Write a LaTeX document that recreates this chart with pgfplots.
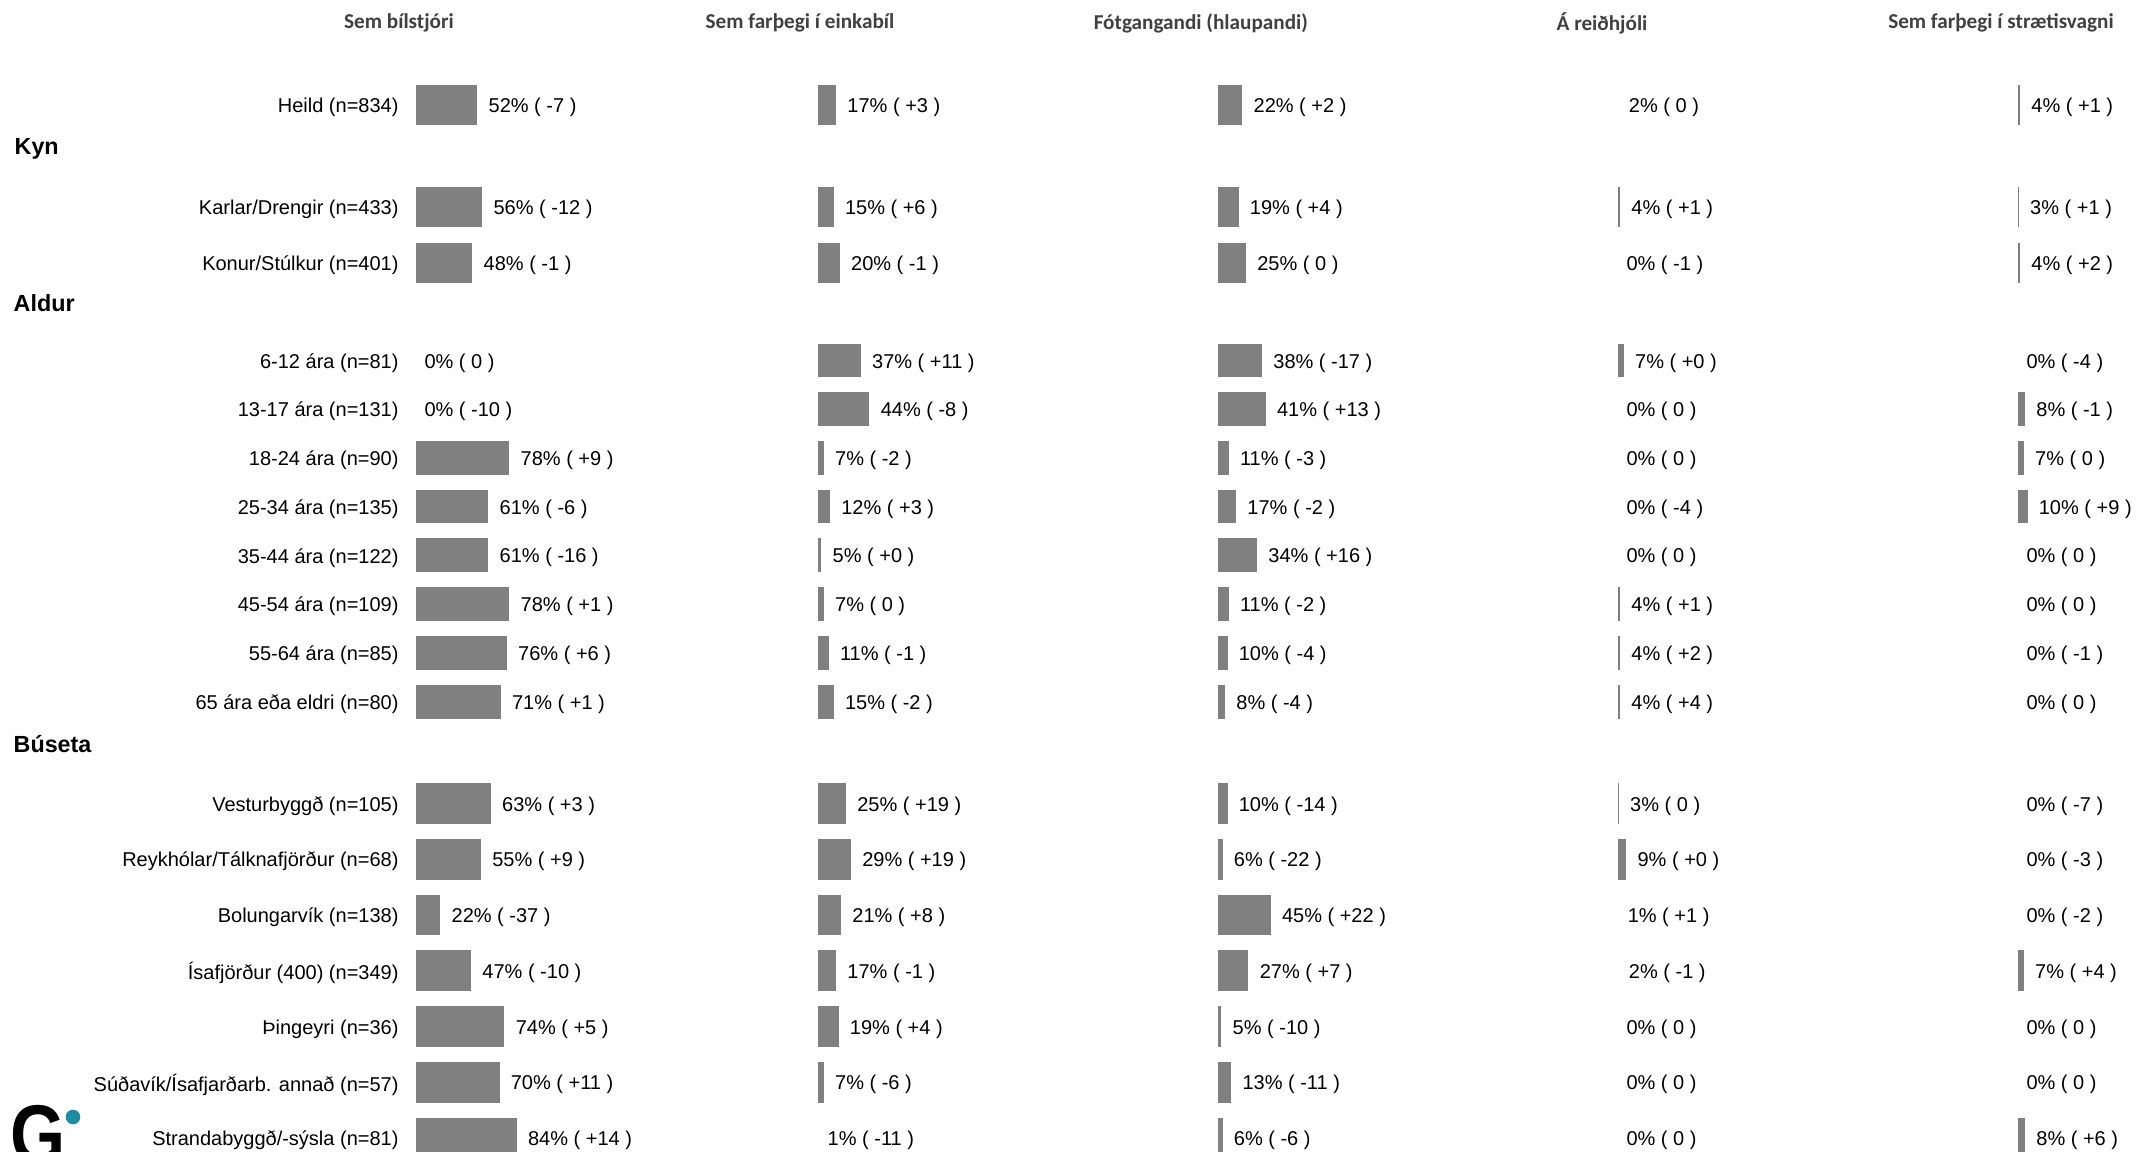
\documentclass[border=0pt]{standalone}
\usepackage{fontspec}
\setmainfont{Liberation Sans}
\newfontfamily\hdrfont{Carlito}
\usepackage{pgfplots}
\pgfplotsset{compat=1.18}
\usepackage{pgfplotstable}

\definecolor{barc}{RGB}{128,128,128}
\definecolor{hdrc}{RGB}{64,64,64}
\definecolor{gteal}{RGB}{30,140,165}
\newcommand{\px}{0.3pt}
\newcommand{\rowfont}{\fontsize{6.0}{7}\selectfont}
\newcommand{\grpfont}{\fontsize{7}{8}\selectfont\bfseries}
\newcommand{\colfont}{\hdrfont\fontsize{6.36}{7.5}\selectfont\bfseries\color{hdrc}}

% rows of Heild, Kyn and Buseta
\pgfplotstableread[col sep=comma]{
y,v1,l1,v2,l2,v3,l3,v4,l4,v5,l5
105,52,52\% ( -7 ),17,17\% ( +3 ),22,22\% ( +2 ),2,2\% ( 0 ),4,4\% ( +1 )
207,56,56\% ( -12 ),15,15\% ( +6 ),19,19\% ( +4 ),4,4\% ( +1 ),3,3\% ( +1 )
263,48,48\% ( -1 ),20,20\% ( -1 ),25,25\% ( 0 ),0,0\% ( -1 ),4,4\% ( +2 )
803.5,63,63\% ( +3 ),25,25\% ( +19 ),10,10\% ( -14 ),3,3\% ( 0 ),0,0\% ( -7 )
859.3,55,55\% ( +9 ),29,29\% ( +19 ),6,6\% ( -22 ),9,9\% ( +0 ),0,0\% ( -3 )
915,22,22\% ( -37 ),21,21\% ( +8 ),45,45\% ( +22 ),1,1\% ( +1 ),0,0\% ( -2 )
970.8,47,47\% ( -10 ),17,17\% ( -1 ),27,27\% ( +7 ),2,2\% ( -1 ),7,7\% ( +4 )
1026.6,74,74\% ( +5 ),19,19\% ( +4 ),5,5\% ( -10 ),0,0\% ( 0 ),0,0\% ( 0 )
1082.4,70,70\% ( +11 ),7,7\% ( -6 ),13,13\% ( -11 ),0,0\% ( 0 ),0,0\% ( 0 )
1138.2,84,84\% ( +14 ),1,1\% ( -11 ),6,6\% ( -6 ),0,0\% ( 0 ),8,8\% ( +6 )
}\tabA

% rows of Aldur
\pgfplotstableread[col sep=comma]{
y,v1,l1,v2,l2,v3,l3,v4,l4,v5,l5
360.5,0,0\% ( 0 ),37,37\% ( +11 ),38,38\% ( -17 ),7,7\% ( +0 ),0,0\% ( -4 )
408.8,0,0\% ( -10 ),44,44\% ( -8 ),41,41\% ( +13 ),0,0\% ( 0 ),8,8\% ( -1 )
457.6,78,78\% ( +9 ),7,7\% ( -2 ),11,11\% ( -3 ),0,0\% ( 0 ),7,7\% ( 0 )
506.5,61,61\% ( -6 ),12,12\% ( +3 ),17,17\% ( -2 ),0,0\% ( -4 ),10,10\% ( +9 )
555.4,61,61\% ( -16 ),5,5\% ( +0 ),34,34\% ( +16 ),0,0\% ( 0 ),0,0\% ( 0 )
604.3,78,78\% ( +1 ),7,7\% ( 0 ),11,11\% ( -2 ),4,4\% ( +1 ),0,0\% ( 0 )
653.2,76,76\% ( +6 ),11,11\% ( -1 ),10,10\% ( -4 ),4,4\% ( +2 ),0,0\% ( -1 )
702.1,71,71\% ( +1 ),15,15\% ( -2 ),8,8\% ( -4 ),4,4\% ( +4 ),0,0\% ( 0 )
}\tabB

\pgfplotsset{
  panel/.style={
    scale only axis, x=0.37pt, y=0.3pt, y dir=reverse,
    xmin=0, xmax=100, ymin=0, ymax=1152, enlargelimits=false,
    anchor=north west, clip=false,
    xbar, bar shift=0pt,
    axis line style={draw=none}, major tick style={draw=none}, major tick length=0pt,
    xtick=\empty, ytick=\empty,
    nodes near coords, point meta=explicit symbolic,
    nodes near coords style={anchor=west, inner sep=0pt, xshift=2.6pt, yshift=-0.7pt, font=\rowfont, text=black, draw=none, fill=none},
  },
  barA/.style={fill=barc, draw=white, line width=0.8pt, bar width=43.5},
  barB/.style={fill=barc, draw=white, line width=0.8pt, bar width=36.5},
}

\begin{document}
\begin{tikzpicture}
% panel 1
\begin{axis}[panel, at={(414.5*\px,0)},
  ytick={105,207,263,360.5,408.8,457.6,506.5,555.4,604.3,653.2,702.1,803.5,859.3,915,970.8,1026.6,1082.4,1138.2},
  yticklabels={Heild (n=834),Karlar/Drengir (n=433),Konur/Stúlkur (n=401),6-12 ára (n=81),13-17 ára (n=131),18-24 ára (n=90),25-34 ára (n=135),35-44 ára (n=122),45-54 ára (n=109),55-64 ára (n=85),65 ára eða eldri (n=80),Vesturbyggð (n=105),Reykhólar/Tálknafjörður (n=68),Bolungarvík (n=138),Ísafjörður (400) (n=349),Þingeyri (n=36),Súðavík/Ísafjarðarb. annað (n=57),Strandabyggð/-sýsla (n=81)},
  yticklabel style={font=\rowfont, text=black, inner sep=0pt, anchor=east, xshift=-4.6pt, yshift=-0.7pt},
]
\addplot[barA] table[x=v1, y=y, meta=l1] {\tabA};
\addplot[barB] table[x=v1, y=y, meta=l1] {\tabB};
\end{axis}
% panel 2
\begin{axis}[panel, at={(816.5*\px,0)}]
\addplot[barA] table[x=v2, y=y, meta=l2] {\tabA};
\addplot[barB] table[x=v2, y=y, meta=l2] {\tabB};
\end{axis}
% panel 3
\begin{axis}[panel, at={(1216.5*\px,0)}]
\addplot[barA] table[x=v3, y=y, meta=l3] {\tabA};
\addplot[barB] table[x=v3, y=y, meta=l3] {\tabB};
\end{axis}
% panel 4
\begin{axis}[panel, at={(1616.5*\px,0)}]
\addplot[barA] table[x=v4, y=y, meta=l4] {\tabA};
\addplot[barB] table[x=v4, y=y, meta=l4] {\tabB};
\end{axis}
% panel 5
\begin{axis}[panel, at={(2016.5*\px,0)}]
\addplot[barA] table[x=v5, y=y, meta=l5] {\tabA};
\addplot[barB] table[x=v5, y=y, meta=l5] {\tabB};
\end{axis}

% column headers
\node[font=\colfont, inner sep=0pt] at (399*\px,-23*\px) {Sem bílstjóri};
\node[font=\colfont, inner sep=0pt] at (800*\px,-23*\px) {Sem farþegi í einkabíl};
\node[font=\colfont, inner sep=0pt] at (1200.8*\px,-23*\px) {Fótgangandi (hlaupandi)};
\node[font=\colfont, inner sep=0pt] at (1602*\px,-23*\px) {Á reiðhjóli};
\node[font=\colfont, inner sep=0pt] at (2001*\px,-23*\px) {Sem farþegi í strætisvagni};

% group headers
\node[font=\grpfont, anchor=west, inner sep=0pt] at (14*\px,-148.5*\px) {Kyn};
\node[font=\grpfont, anchor=west, inner sep=0pt] at (13*\px,-303.5*\px) {Aldur};
\node[font=\grpfont, anchor=west, inner sep=0pt] at (13*\px,-744.5*\px) {Búseta};

% logo
\begin{scope}
\clip (0,0) rectangle (2136*\px,-1152*\px);
\node[anchor=base west, inner sep=0pt, xscale=0.85, font=\fontsize{25}{25}\selectfont\bfseries] at (10*\px,-1163*\px) {G};
\fill[gteal] (73*\px,-1117*\px) circle (7.3*\px);
\end{scope}

\pgfresetboundingbox
\useasboundingbox (0,0) rectangle (2136*\px,-1152*\px);
\end{tikzpicture}
\end{document}
